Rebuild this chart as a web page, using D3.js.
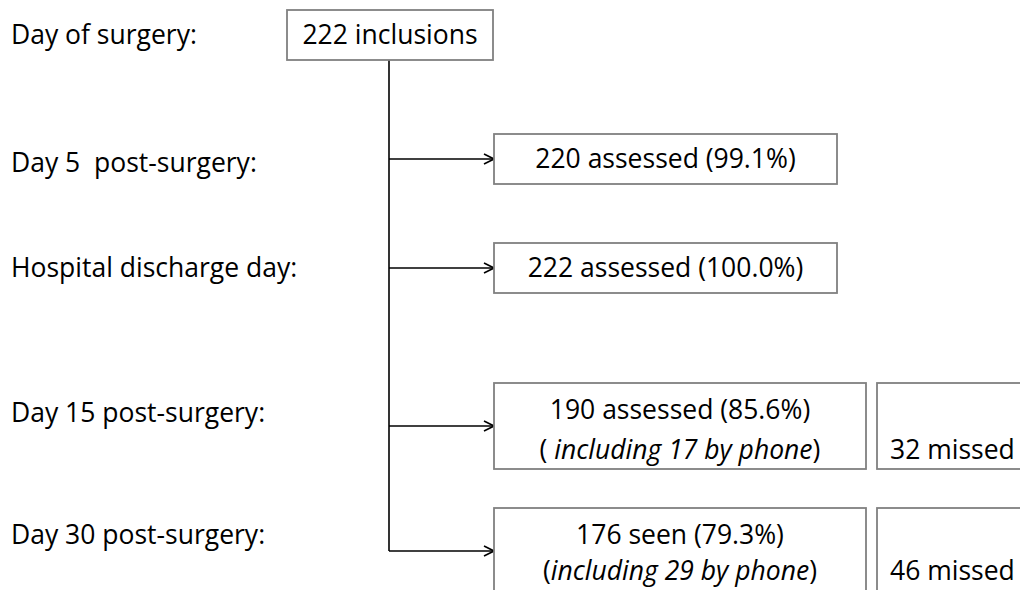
<!DOCTYPE html>
<html>
<head>
<meta charset="utf-8">
<script src="https://cdn.jsdelivr.net/npm/d3@7"></script>
<style>
  body { margin: 0; background: #fff; }
  svg text { font-family: "Open Sans", "Noto Sans", sans-serif; font-size: 26.5px; fill: #000; white-space: pre; }
</style>
</head>
<body>
<svg width="1020" height="590"></svg>
<script>
// stages of follow-up, one row each
const stages = ["Day of surgery:", "Day 5  post-surgery:", "Hospital discharge day:", "Day 15 post-surgery:", "Day 30 post-surgery:"];
const mainLines = ["222 inclusions", "220 assessed (99.1%)", "222 assessed (100.0%)", "190 assessed (85.6%)", "176 seen (79.3%)"];
const phonePre = [null, null, null, "( ", "("];
const phoneNotes = [null, null, null, "including 17 by phone", "including 29 by phone"];
const missed = [null, null, null, "32 missed", "46 missed"];

var svg = d3.select("svg");

// row layout
var rowY = d3.scaleOrdinal().domain(stages).range([35, 159, 268, 426, 551]);
var labelY = d3.scaleOrdinal().domain(stages).range([35, 163, 268, 413, 535]);
var boxH = d3.scaleOrdinal().domain(stages).range([50, 50, 50, 86, 86]);
var noteDy = d3.scaleOrdinal().domain(stages).range([0, 0, 0, 24, 20]);

var trunkX = 389, boxX = 494;

var rows = stages.map(function (s, i) {
    return { stage: s, main: mainLines[i], pre: phonePre[i], note: phoneNotes[i], missed: missed[i], i: i };
});

// arrow marker
svg.append("defs").append("marker")
    .attr("id", "arr")
    .attr("viewBox", "0 0 12 12")
    .attr("refX", 11).attr("refY", 6)
    .attr("markerWidth", 12).attr("markerHeight", 12)
    .attr("markerUnits", "userSpaceOnUse")
    .attr("orient", "auto")
    .append("path")
    .attr("d", "M1,1 L11,6 L1,11")
    .attr("fill", "none")
    .attr("stroke", "#000")
    .attr("stroke-width", 1.6);

// stage labels
svg.selectAll(".lbl")
    .data(rows)
    .enter().append("text")
    .attr("class", "lbl")
    .attr("x", 11)
    .attr("y", function (d) { return labelY(d.stage); })
    .attr("dy", "0.35em")
    .text(function (d) { return d.stage; });

// trunk line
svg.append("line")
    .attr("x1", trunkX).attr("x2", trunkX)
    .attr("y1", rowY(stages[0]) + boxH(stages[0]) / 2)
    .attr("y2", rowY(stages[4]))
    .attr("stroke", "#000").attr("stroke-width", 1.6);

// branch arrows
svg.selectAll(".branch")
    .data(rows.slice(1))
    .enter().append("line")
    .attr("class", "branch")
    .attr("x1", trunkX).attr("x2", boxX)
    .attr("y1", function (d) { return rowY(d.stage); })
    .attr("y2", function (d) { return rowY(d.stage); })
    .attr("stroke", "#000").attr("stroke-width", 1.6)
    .attr("marker-end", "url(#arr)");

// top box
var first = rows[0];
svg.append("rect")
    .attr("x", 287).attr("y", rowY(first.stage) - boxH(first.stage) / 2)
    .attr("width", 206).attr("height", boxH(first.stage))
    .attr("fill", "#fff").attr("stroke", "#808080").attr("stroke-width", 1.8);
svg.append("text")
    .attr("x", 390).attr("y", rowY(first.stage))
    .attr("dy", "0.35em").attr("text-anchor", "middle")
    .text(first.main);

// follow-up boxes
var fu = rows.slice(1);
var boxW = function (d) { return d.note ? 372 : 343; };

svg.selectAll(".fbox")
    .data(fu)
    .enter().append("rect")
    .attr("class", "fbox")
    .attr("x", boxX)
    .attr("y", function (d) { return rowY(d.stage) - boxH(d.stage) / 2; })
    .attr("width", boxW)
    .attr("height", function (d) { return boxH(d.stage); })
    .attr("fill", "#fff").attr("stroke", "#808080").attr("stroke-width", 1.8);

svg.selectAll(".fmain")
    .data(fu)
    .enter().append("text")
    .attr("class", "fmain")
    .attr("x", function (d) { return boxX + boxW(d) / 2; })
    .attr("y", function (d) { return d.note ? rowY(d.stage) - 16 : rowY(d.stage); })
    .attr("dy", "0.35em").attr("text-anchor", "middle")
    .text(function (d) { return d.main; });

var notes = svg.selectAll(".fnote")
    .data(fu.filter(function (d) { return d.note; }))
    .enter().append("text")
    .attr("class", "fnote")
    .attr("x", function (d) { return boxX + boxW(d) / 2; })
    .attr("y", function (d) { return rowY(d.stage) + noteDy(d.stage); })
    .attr("dy", "0.35em").attr("text-anchor", "middle");
notes.append("tspan").text(function (d) { return d.pre; });
notes.append("tspan").style("font-style", "italic").text(function (d) { return d.note; });
notes.append("tspan").text(")");

// missed boxes
var miss = fu.filter(function (d) { return d.missed; });
svg.selectAll(".mbox")
    .data(miss)
    .enter().append("rect")
    .attr("class", "mbox")
    .attr("x", 877)
    .attr("y", function (d) { return rowY(d.stage) - boxH(d.stage) / 2; })
    .attr("width", 200)
    .attr("height", function (d) { return boxH(d.stage); })
    .attr("fill", "#fff").attr("stroke", "#808080").attr("stroke-width", 1.8);
svg.selectAll(".mtxt")
    .data(miss)
    .enter().append("text")
    .attr("class", "mtxt")
    .attr("x", 890)
    .attr("y", function (d) { return rowY(d.stage) + noteDy(d.stage); })
    .attr("dy", "0.35em")
    .text(function (d) { return d.missed; });
</script>
</body>
</html>
